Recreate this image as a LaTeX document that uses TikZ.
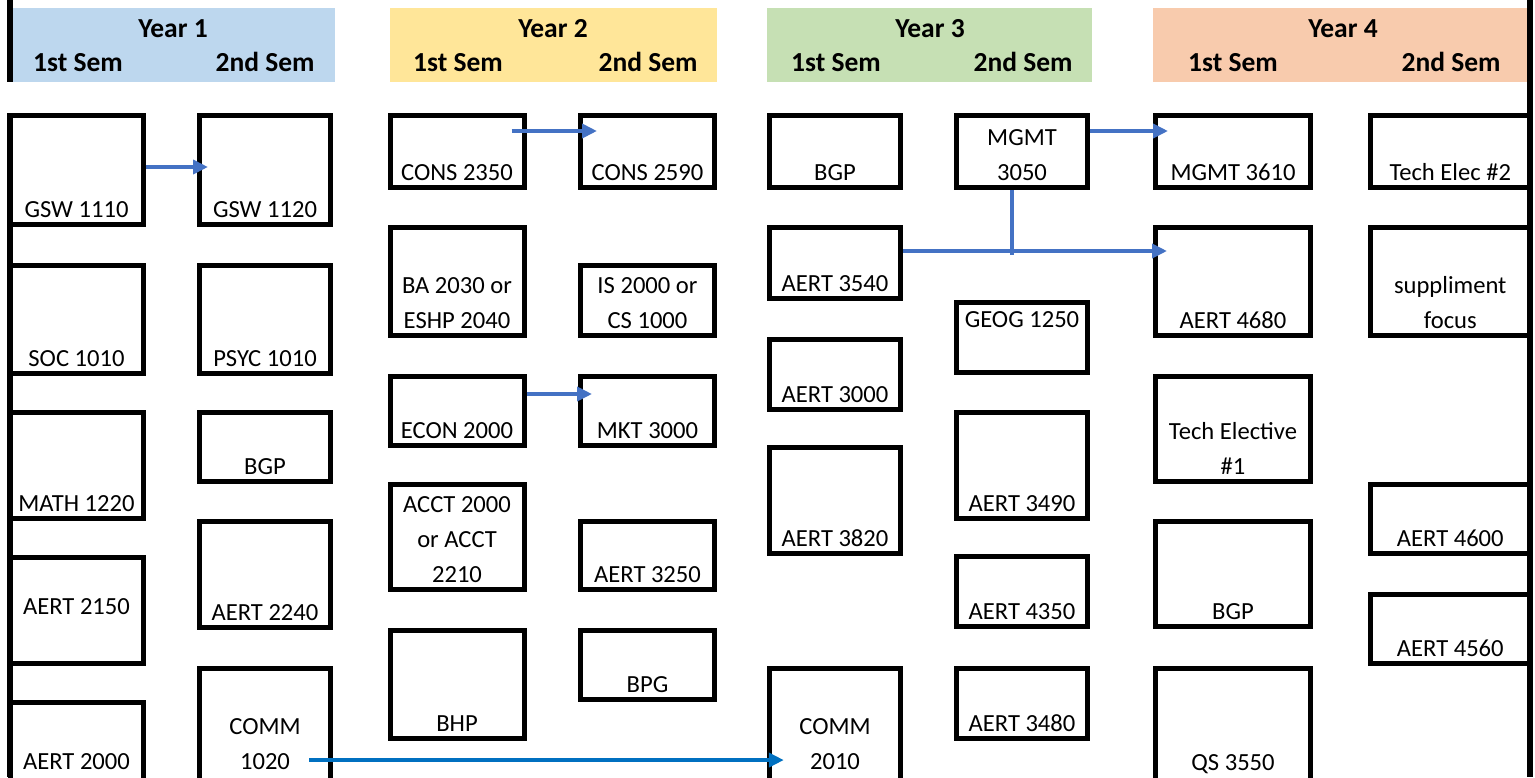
\documentclass[tikz,border=0pt]{standalone}
\usepackage{fontspec}
\setmainfont{Carlito}
\usetikzlibrary{positioning,arrows.meta,fit,calc}
\definecolor{yronebg}{HTML}{BDD7EE}
\definecolor{yrtwobg}{HTML}{FFE699}
\definecolor{yrthreebg}{HTML}{C6E0B4}
\definecolor{yrfourbg}{HTML}{F8CBAD}
\definecolor{reqblue}{HTML}{4472C4}
\definecolor{commblue}{HTML}{0070C0}
\tikzset{
  course/.style={draw,line width=2.5pt,inner sep=0pt},
  band/.style={inner sep=0pt},
  ctext/.style={font=\fontsize{12.3}{17.5}\selectfont,align=center,inner sep=0pt},
  cbot/.style={ctext,anchor=south,yshift=4.5pt},
  clast/.style={ctext,anchor=south,yshift=7pt},
  ctop/.style={ctext,anchor=north,yshift=-5.75pt},
  cmid/.style={ctext,anchor=center,yshift=1.75pt},
  yeartitle/.style={font=\fontsize{13.75}{16}\selectfont\bfseries,anchor=base,inner sep=0pt},
  frame/.style={line width=3pt},
  req/.style={-{Triangle[length=7.5pt,width=7pt]},line width=2.25pt,reqblue},
  reqline/.style={line width=2.25pt,reqblue},
  commreq/.style={req,commblue},
}
\begin{document}
\begin{tikzpicture}[x=0.5pt,y=-0.5pt]
  \useasboundingbox (0,0) rectangle (1535,777);
  % year headers
  \node[band,fill=yronebg,fit={(12,8) (335,82)}] (yr1) {};
  \node[band,fill=yrtwobg,fit={(390,8) (717,82)}] (yr2) {};
  \node[band,fill=yrthreebg,fit={(767,8) (1092,82)}] (yr3) {};
  \node[band,fill=yrfourbg,fit={(1153,8) (1528,82)}] (yr4) {};
  \node[yeartitle] (yr1-title) at (173,37) {Year 1};
  \node[yeartitle] (yr1-s1) at (78,71) {1st Sem};
  \node[yeartitle] (yr1-s2) at (265,71) {2nd Sem};
  \node[yeartitle] (yr2-title) at (553,37) {Year 2};
  \node[yeartitle] (yr2-s1) at (458,71) {1st Sem};
  \node[yeartitle] (yr2-s2) at (648,71) {2nd Sem};
  \node[yeartitle] (yr3-title) at (930,37) {Year 3};
  \node[yeartitle] (yr3-s1) at (836,71) {1st Sem};
  \node[yeartitle] (yr3-s2) at (1023,71) {2nd Sem};
  \node[yeartitle] (yr4-title) at (1343,37) {Year 4};
  \node[yeartitle] (yr4-s1) at (1233,71) {1st Sem};
  \node[yeartitle] (yr4-s2) at (1451,71) {2nd Sem};
  \draw[frame] (10,0) -- (10,82);
  \draw[frame] (10,113) -- (10,777);
  \draw[frame] (1530,0) -- (1530,777);

  % year 1, 1st sem
  \node[course,fit={(10,115.5) (143,224.5)}] (gsw1110) {};
  \node[course,fit={(10,265.5) (143,373.5)}] (soc1010) {};
  \node[course,fit={(10,412.5) (143,518.5)}] (math1220) {};
  \node[course,fit={(10,557.5) (143,663.5)}] (aert2150) {};
  \node[course,fit={(10,702.5) (143,782)}] (aert2000) {};
  \node[cbot] (gsw1110-t) at (gsw1110.south) {GSW 1110};
  \node[cbot] (soc1010-t) at (soc1010.south) {SOC 1010};
  \node[cbot] (math1220-t) at (math1220.south) {MATH 1220};
  \node[cmid] (aert2150-t) at (aert2150.center) {AERT 2150};
  \node[clast] (aert2000-t) at (aert2000.south) {AERT 2000};
  % year 1, 2nd sem
  \node[course,fit={(199.5,115.5) (330.5,224.5)}] (gsw1120) {};
  \node[course,fit={(199.5,265.5) (330.5,373.5)}] (psyc1010) {};
  \node[course,fit={(199.5,412.5) (330.5,481.5)}] (bgp-a) {};
  \node[course,fit={(199.5,521.5) (330.5,627.5)}] (aert2240) {};
  \node[course,fit={(199.5,668.5) (330.5,782)}] (comm1020) {};
  \node[cbot] (gsw1120-t) at (gsw1120.south) {GSW 1120};
  \node[cbot] (psyc1010-t) at (psyc1010.south) {PSYC 1010};
  \node[cbot] (bgp-a-t) at (bgp-a.south) {BGP};
  \node[cbot] (aert2240-t) at (aert2240.south) {AERT 2240};
  \node[clast] (comm1020-t) at (comm1020.south) {COMM\\1020};

  % year 2, 1st sem
  \node[course,fit={(390,115.5) (524,187.5)}] (cons2350) {};
  \node[course,fit={(390,227.5) (524,335.5)}] (ba2030) {};
  \node[course,fit={(390,376.5) (524,445.5)}] (econ2000) {};
  \node[course,fit={(390,484.5) (524,589.5)}] (acct2000) {};
  \node[course,fit={(390,630.5) (524,738.5)}] (bhp) {};
  \node[cbot] (cons2350-t) at (cons2350.south) {CONS 2350};
  \node[cbot] (ba2030-t) at (ba2030.south) {BA 2030 or\\ESHP 2040};
  \node[cbot] (econ2000-t) at (econ2000.south) {ECON 2000};
  \node[cbot] (acct2000-t) at (acct2000.south) {ACCT 2000\\or ACCT\\2210};
  \node[cbot] (bhp-t) at (bhp.south) {BHP};
  % year 2, 2nd sem
  \node[course,fit={(580.5,115.5) (714.5,187.5)}] (cons2590) {};
  \node[course,fit={(580.5,265.5) (714.5,335.5)}] (is2000) {};
  \node[course,fit={(580.5,376.5) (714.5,445.5)}] (mkt3000) {};
  \node[course,fit={(580.5,521.5) (714.5,589.5)}] (aert3250) {};
  \node[course,fit={(580.5,630.5) (714.5,699.5)}] (bpg) {};
  \node[cbot] (cons2590-t) at (cons2590.south) {CONS 2590};
  \node[cbot] (is2000-t) at (is2000.south) {IS 2000 or\\CS 1000};
  \node[cbot] (mkt3000-t) at (mkt3000.south) {MKT 3000};
  \node[cbot] (aert3250-t) at (aert3250.south) {AERT 3250};
  \node[cbot] (bpg-t) at (bpg.south) {BPG};

  % year 3, 1st sem
  \node[course,fit={(769.5,115.5) (900.5,187.5)}] (bgp-b) {};
  \node[course,fit={(769.5,227.5) (900.5,298.5)}] (aert3540) {};
  \node[course,fit={(769.5,339.5) (900.5,409.5)}] (aert3000) {};
  \node[course,fit={(769.5,447.5) (900.5,553.5)}] (aert3820) {};
  \node[course,fit={(769.5,668.5) (900.5,782)}] (comm2010) {};
  \node[cbot] (bgp-b-t) at (bgp-b.south) {BGP};
  \node[cbot] (aert3540-t) at (aert3540.south) {AERT 3540};
  \node[cbot] (aert3000-t) at (aert3000.south) {AERT 3000};
  \node[cbot] (aert3820-t) at (aert3820.south) {AERT 3820};
  \node[clast] (comm2010-t) at (comm2010.south) {COMM\\2010};
  % year 3, 2nd sem
  \node[course,fit={(956.5,115.5) (1087.5,187.5)}] (mgmt3050) {};
  \node[course,fit={(956.5,302.5) (1087.5,372.5)}] (geog1250) {};
  \node[course,fit={(956.5,412.5) (1087.5,518.5)}] (aert3490) {};
  \node[course,fit={(956.5,556.5) (1087.5,626.5)}] (aert4350) {};
  \node[course,fit={(956.5,668.5) (1087.5,738.5)}] (aert3480) {};
  \node[cbot] (mgmt3050-t) at (mgmt3050.south) {MGMT\\3050};
  \node[ctop] (geog1250-t) at (geog1250.north) {GEOG 1250};
  \node[cbot] (aert3490-t) at (aert3490.south) {AERT 3490};
  \node[cbot] (aert4350-t) at (aert4350.south) {AERT 4350};
  \node[cbot] (aert3480-t) at (aert3480.south) {AERT 3480};

  % year 4, 1st sem
  \node[course,fit={(1155.5,115.5) (1310.5,187.5)}] (mgmt3610) {};
  \node[course,fit={(1155.5,227.5) (1310.5,335.5)}] (aert4680) {};
  \node[course,fit={(1155.5,376.5) (1310.5,481.5)}] (techelec1) {};
  \node[course,fit={(1155.5,521.5) (1310.5,626.5)}] (bgp-c) {};
  \node[course,fit={(1155.5,668.5) (1310.5,782)}] (qs3550) {};
  \node[cbot] (mgmt3610-t) at (mgmt3610.south) {MGMT 3610};
  \node[cbot] (aert4680-t) at (aert4680.south) {AERT 4680};
  \node[cbot] (techelec1-t) at (techelec1.south) {Tech Elective\\\#1};
  \node[cbot] (bgp-c-t) at (bgp-c.south) {BGP};
  \node[clast,text depth=0pt] (qs3550-t) at (qs3550.south) {QS 3550};
  % year 4, 2nd sem
  \node[course,fit={(1370.5,115.5) (1530,187.5)}] (techelec2) {};
  \node[course,fit={(1370.5,227.5) (1530,335.5)}] (suppl) {};
  \node[course,fit={(1370.5,484.5) (1530,553.5)}] (aert4600) {};
  \node[course,fit={(1370.5,594.5) (1530,663.5)}] (aert4560) {};
  \node[cbot] (techelec2-t) at (techelec2.south) {Tech Elec \#2};
  \node[cbot] (suppl-t) at (suppl.south) {suppliment\\focus};
  \node[cbot] (aert4600-t) at (aert4600.south) {AERT 4600};
  \node[cbot] (aert4560-t) at (aert4560.south) {AERT 4560};

  % prerequisites
  \draw[req,shorten >=-5.5pt] ([yshift=1.5pt]gsw1110.east) -- ([yshift=1.5pt]gsw1120.west);
  \draw[req] ([xshift=-7.5pt,yshift=10.25pt]cons2350.east) -- ([xshift=9.5pt,yshift=10.25pt]cons2590.west);
  \draw[req] ([yshift=8.5pt]econ2000.east) -- ([xshift=7pt,yshift=8.5pt]mkt3000.west);
  \draw[req] ([yshift=10.25pt]mgmt3050.east) -- ([xshift=7.5pt,yshift=10.25pt]mgmt3610.west);
  \coordinate (fork) at ([yshift=6pt]aert3540.east);
  \coordinate (tee) at ($(fork -| mgmt3050.south)+(-10,4)$);
  \draw[req] (fork) -- ($(fork -| aert4680.west)+(14,0)$);
  \draw[reqline] ([xshift=-5pt]mgmt3050.south) -- (tee);
  \draw[commreq] ([xshift=-11.9pt,yshift=-17.4pt]comm1020.east) -- ([xshift=8.4pt,yshift=-17.4pt]comm2010.west);
\end{tikzpicture}
\end{document}
